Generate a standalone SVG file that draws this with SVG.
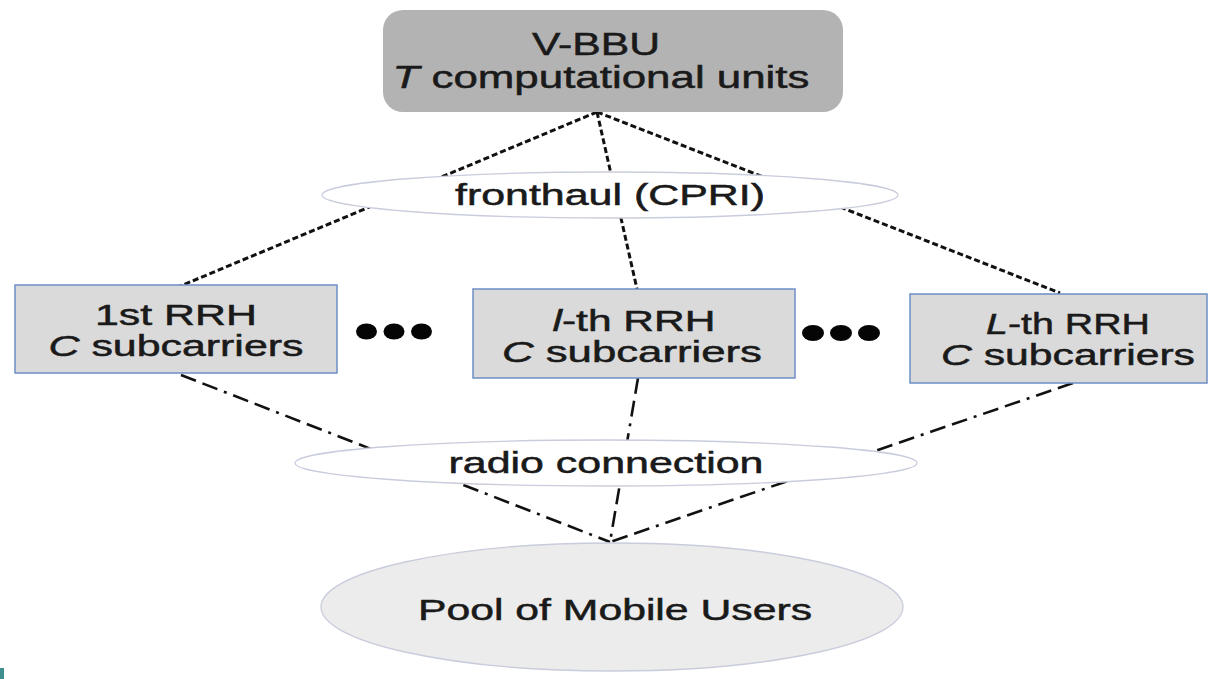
<svg xmlns="http://www.w3.org/2000/svg" width="1216" height="679" viewBox="0 0 1216 679">
  <style>
    text { font-family: "Liberation Sans", Arial, sans-serif; fill: #1a1a1a; stroke: #1a1a1a; stroke-width: 0.5; text-anchor: middle; }
    .big { font-size: 31px; }
    .lbl { font-size: 29px; }
    .it { font-style: italic; }
    .rrh { fill: #dadada; stroke: #6d8fc6; stroke-width: 1.5; }
    .link { fill: #ffffff; stroke: #c9ccdc; stroke-width: 1.3; }
    .fh { fill: none; stroke: #111; stroke-width: 3; stroke-dasharray: 6 3; }
    .rc { fill: none; stroke: #111; stroke-width: 2.6; stroke-dasharray: 16 7 16 7 3 7; }
    .dot { fill: #050505; }
  </style>

  <rect width="1216" height="679" fill="#ffffff"/>

  <!-- connectors: fronthaul (dotted) and radio (dash-dot) -->
  <g id="connectors">
    <path class="fh" d="M597,112 L178,287"/>
    <path class="fh" d="M597,112 L637,289"/>
    <path class="fh" d="M597,112 L1060,293"/>
    <path class="rc" d="M181,375 L610,542"/>
    <path class="rc" d="M638,378 L610,542"/>
    <path class="rc" d="M1073,383 L610,542"/>
  </g>

  <g id="vbbu">
    <rect x="383" y="10" width="460" height="102" rx="20" fill="#b3b3b3"/>
    <text class="big" x="596" y="55" textLength="128" lengthAdjust="spacingAndGlyphs">V-BBU</text>
    <text class="big" x="601" y="88" textLength="417" lengthAdjust="spacingAndGlyphs"><tspan class="it">T</tspan> computational units</text>
  </g>

  <g id="fronthaul">
    <ellipse class="link" cx="610" cy="195" rx="288" ry="23"/>
    <text class="lbl" x="610" y="205" textLength="310" lengthAdjust="spacingAndGlyphs">fronthaul (CPRI)</text>
  </g>

  <g id="rrh-1">
    <rect class="rrh" x="15" y="285" width="322" height="88"/>
    <text class="lbl" x="176" y="325" textLength="162" lengthAdjust="spacingAndGlyphs">1st RRH</text>
    <text class="lbl" x="176" y="356" textLength="255" lengthAdjust="spacingAndGlyphs"><tspan class="it">C</tspan> subcarriers</text>
  </g>

  <g id="dots-1">
    <ellipse class="dot" cx="366.5" cy="331.5" rx="10.5" ry="8"/>
    <ellipse class="dot" cx="394" cy="331.5" rx="10.5" ry="8"/>
    <ellipse class="dot" cx="421.5" cy="331.5" rx="10.5" ry="8"/>
  </g>

  <g id="rrh-l">
    <rect class="rrh" x="473" y="289" width="322" height="89"/>
    <text class="lbl" x="634" y="331" textLength="163" lengthAdjust="spacingAndGlyphs"><tspan class="it">l</tspan>-th RRH</text>
    <text class="lbl" x="632" y="362" textLength="260" lengthAdjust="spacingAndGlyphs"><tspan class="it">C</tspan> subcarriers</text>
  </g>

  <g id="dots-2">
    <ellipse class="dot" cx="813" cy="333" rx="11" ry="8"/>
    <ellipse class="dot" cx="841" cy="333" rx="11" ry="8"/>
    <ellipse class="dot" cx="869" cy="333" rx="11" ry="8"/>
  </g>

  <g id="rrh-L">
    <rect class="rrh" x="910" y="294" width="297" height="89"/>
    <text class="lbl" x="1068" y="334" textLength="164" lengthAdjust="spacingAndGlyphs"><tspan class="it">L</tspan>-th RRH</text>
    <text class="lbl" x="1068" y="365" textLength="254" lengthAdjust="spacingAndGlyphs"><tspan class="it">C</tspan> subcarriers</text>
  </g>

  <g id="radio">
    <ellipse class="link" cx="606" cy="463" rx="311" ry="23"/>
    <text class="lbl" x="606" y="473" textLength="315" lengthAdjust="spacingAndGlyphs">radio connection</text>
  </g>

  <g id="users">
    <ellipse cx="612" cy="607" rx="291" ry="64" fill="#ececec" stroke="#c9ccdc" stroke-width="1.3"/>
    <text class="lbl" x="615" y="620" textLength="394" lengthAdjust="spacingAndGlyphs">Pool of Mobile Users</text>
  </g>

  <!-- small teal mark in the lower-left corner -->
  <rect x="0" y="668" width="4" height="11" fill="#3f8f8f"/>
</svg>
